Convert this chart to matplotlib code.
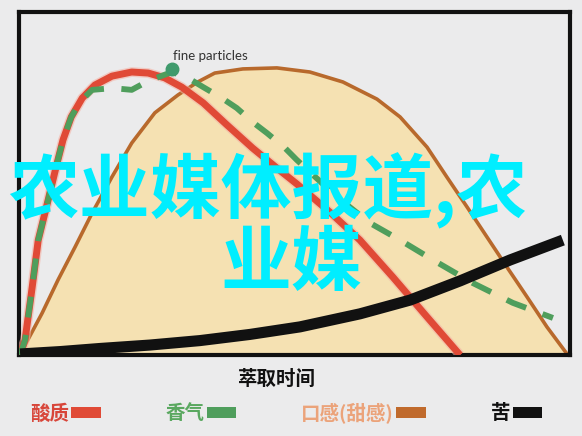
import matplotlib
matplotlib.use("Agg")
import matplotlib.pyplot as plt
from matplotlib.patches import Patch
import matplotlib.patheffects as pe

# ---- data (time 0-100, intensity 0-100) ----
sweet_x = [0.4, 1.1, 4.2, 7.1, 10.2, 13.3, 16.9, 20.5, 24.7, 28.9, 32.5, 35.6, 40.7, 46.9, 52.9, 58.9,
           65.1, 69.3, 74.2, 77.8, 81.5, 85.1, 88.7, 92.4, 96.0, 99.8]
sweet_y = [0.6, 2.9, 12.2, 21.9, 31.5, 41.4, 51.9, 61.8, 70.6, 75.8, 79.6, 82.2, 83.4, 83.7, 82.5, 79.6,
           74.6, 69.4, 60.6, 51.9, 43.1, 34.4, 25.7, 16.9, 8.2, 0.0]

acid_x = [0.2, 1.1, 2.4, 3.5, 5.3, 6.7, 8.0, 9.5, 11.5, 13.8, 16.9, 20.5, 23.5, 26.5, 29.6, 33.5,
          37.8, 42.5, 46.9, 50.5, 56.5, 62.0, 68.0, 74.2, 80.2]
acid_y = [0.0, 4.4, 19.8, 33.5, 45.2, 54.5, 62.7, 69.4, 74.9, 78.7, 81.3, 82.5, 82.2, 80.8, 78.1, 73.5,
          67.1, 60.3, 54.5, 49.9, 41.7, 33.5, 22.7, 11.1, 0.0]

aroma_x = [0.2, 1.1, 2.4, 3.5, 5.3, 6.7, 8.0, 9.5, 11.1, 13.3, 17.1, 20.5, 23.5, 27.8, 30.7, 33.5,
           36.9, 39.6, 42.5, 45.1, 48.4, 50.5, 57.8, 63.8, 69.3, 75.3, 82.5, 89.8, 97.1]
aroma_y = [0.0, 4.4, 19.8, 33.5, 45.2, 54.5, 62.7, 69.4, 73.8, 77.3, 77.8, 77.3, 79.9, 82.5, 80.8, 78.1,
           74.9, 72.0, 67.9, 64.7, 60.3, 56.9, 46.1, 38.5, 33.5, 27.7, 21.0, 15.2, 10.8]

bitter_x = [0.2, 7.5, 14.7, 23.8, 32.9, 42.0, 51.1, 62.0, 71.1, 80.2, 89.3, 98.9]
bitter_y = [0.3, 1.0, 1.9, 2.9, 4.2, 6.0, 8.2, 12.0, 16.0, 21.6, 27.7, 33.5]

fine_x = [27.8]
fine_y = [83.4]
fine_label = "fine particles"

legend_labels = ["酸质", "香气", "口感(甜感)", "苦"]
legend_colors = ["#e04a36", "#4f9e5c", "#c06a2c", "#111111"]
legend_text_colors = ["#d8463a", "#5aa860", "#eba37a", "#111111"]
xlabel = "萃取时间"
watermark1 = "农业媒体报道,农"
watermark2 = "业媒"

CJK = ["Noto Sans CJK SC", "DejaVu Sans"]
bg = "#ebebec"

fig = plt.figure(figsize=(5.82, 4.36), dpi=100, facecolor=bg)
ax = fig.add_axes([19/582, 81/436, 551/582, 343/436])
ax.set_facecolor(bg)
ax.set_xlim(0, 100.2)
ax.set_ylim(0, 100)
ax.set_xticks([])
ax.set_yticks([])
for s in ax.spines.values():
    s.set_linewidth(3)
    s.set_color("#111111")

ax.fill_between(sweet_x, sweet_y, 0, color="#f5e1b2", zorder=1, lw=0)
ax.plot(sweet_x, sweet_y, color="#b8692c", lw=2.6, zorder=2, solid_joinstyle="round")
ax.plot(acid_x, acid_y, color="#e04a36", lw=5, zorder=3, solid_capstyle="butt", solid_joinstyle="round",
        path_effects=[pe.Stroke(linewidth=7, foreground="#f4b3a6", alpha=0.6), pe.Normal()])
ax.plot(aroma_x, aroma_y, color="#4f9e5c", lw=4.2, zorder=4, dashes=(3.6, 3.0), dash_joinstyle="round")
ax.plot(fine_x, fine_y, "o", color="#3f9a6c", ms=9, zorder=5)
ax.text(fine_x[0] + 0.2, fine_y[0] + 3.9, fine_label, fontsize=9.5, family="Lato",
        color="#333333", ha="left", va="center", zorder=6)
ax.plot(bitter_x, bitter_y, color="#111111", lw=8, zorder=5, solid_capstyle="butt", solid_joinstyle="round")

fig.text(277/582, 1 - 379/436, xlabel, family=CJK, fontsize=14, fontweight="bold",
         ha="center", va="center", color="#111111")

handles = [Patch(facecolor=c, edgecolor="none") for c in legend_colors]
fig.legend(handles, legend_labels, loc="center left",
           bbox_to_anchor=(30/582, 1 - 413/436), bbox_transform=fig.transFigure,
           ncol=4, frameon=False, markerfirst=False, borderpad=0, borderaxespad=0,
           handlelength=1.5, handleheight=0.5, handletextpad=0.12, columnspacing=3.35,
           prop={"family": CJK, "size": 14, "weight": "bold"},
           labelcolor=legend_text_colors)

fig.text(8/582, 1 - 191/436, watermark1, family=CJK, fontsize=51, fontweight="bold",
         color="#00eeff", ha="left", va="center", zorder=10)
fig.text(220/582, 1 - 264/436, watermark2, family=CJK, fontsize=51, fontweight="bold",
         color="#00eeff", ha="left", va="center", zorder=10)

fig.savefig("out.png", dpi=100, facecolor=bg)
